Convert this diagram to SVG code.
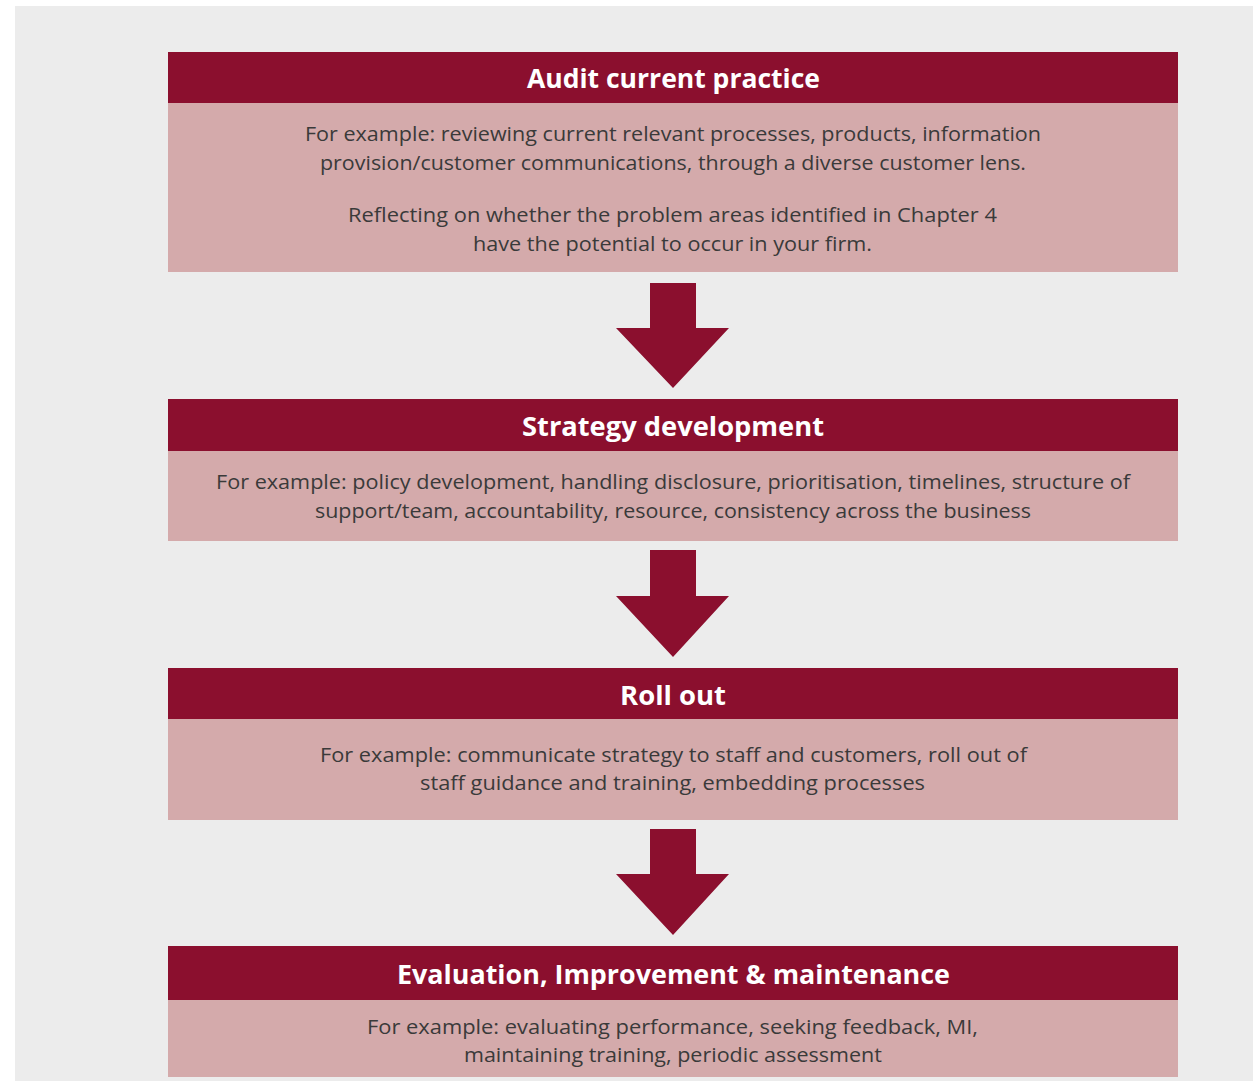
<svg xmlns="http://www.w3.org/2000/svg" width="1253" height="1083" viewBox="0 0 1253 1083">
  <style>
    .panel { fill: #ececec; }
    .head { fill: #8b0f2e; }
    .body { fill: #d4aaab; }
    .arrow { fill: #8b0f2e; }
    .title { font-family: "Open Sans", "Noto Sans", "DejaVu Sans", sans-serif; font-weight: 700; font-size: 27px; fill: #ffffff; }
    .desc { font-family: "Open Sans", "Noto Sans", "DejaVu Sans", sans-serif; font-size: 20px; fill: #3a3a3a; }
  </style>

  <rect x="0" y="0" width="1253" height="1083" fill="#ffffff"/>
  <rect class="panel" x="15" y="6" width="1238" height="1075"/>

  <!-- Step 1 -->
  <g id="audit">
    <rect class="head" x="168" y="52" width="1010" height="51"/>
    <rect class="body" x="168" y="103" width="1010" height="169"/>
    <text class="title" x="527" y="88" textLength="293" lengthAdjust="spacingAndGlyphs">Audit current practice</text>
    <text class="desc" x="305" y="141" textLength="736" lengthAdjust="spacingAndGlyphs">For example: reviewing current relevant processes, products, information</text>
    <text class="desc" x="320" y="170" textLength="706" lengthAdjust="spacingAndGlyphs">provision/customer communications, through a diverse customer lens.</text>
    <text class="desc" x="348" y="222" textLength="649" lengthAdjust="spacingAndGlyphs">Reflecting on whether the problem areas identified in Chapter 4</text>
    <text class="desc" x="473" y="251" textLength="399" lengthAdjust="spacingAndGlyphs">have the potential to occur in your firm.</text>
  </g>

  <!-- Step 2 -->
  <g id="strategy">
    <rect class="head" x="168" y="399" width="1010" height="52"/>
    <rect class="body" x="168" y="451" width="1010" height="90"/>
    <text class="title" x="522" y="436" textLength="302" lengthAdjust="spacingAndGlyphs">Strategy development</text>
    <text class="desc" x="216" y="489" textLength="914" lengthAdjust="spacingAndGlyphs">For example: policy development, handling disclosure, prioritisation, timelines, structure of</text>
    <text class="desc" x="315" y="518" textLength="716" lengthAdjust="spacingAndGlyphs">support/team, accountability, resource, consistency across the business</text>
  </g>

  <!-- Step 3 -->
  <g id="rollout">
    <rect class="head" x="168" y="668" width="1010" height="51"/>
    <rect class="body" x="168" y="719" width="1010" height="101"/>
    <text class="title" x="620" y="705" textLength="106" lengthAdjust="spacingAndGlyphs">Roll out</text>
    <text class="desc" x="320" y="762" textLength="707" lengthAdjust="spacingAndGlyphs">For example: communicate strategy to staff and customers, roll out of</text>
    <text class="desc" x="420" y="790" textLength="505" lengthAdjust="spacingAndGlyphs">staff guidance and training, embedding processes</text>
  </g>

  <!-- Step 4 -->
  <g id="evaluation">
    <rect class="head" x="168" y="946" width="1010" height="54"/>
    <rect class="body" x="168" y="1000" width="1010" height="77"/>
    <text class="title" x="397" y="984" textLength="553" lengthAdjust="spacingAndGlyphs">Evaluation, Improvement &amp; maintenance</text>
    <text class="desc" x="367" y="1034" textLength="611" lengthAdjust="spacingAndGlyphs">For example: evaluating performance, seeking feedback, MI,</text>
    <text class="desc" x="464" y="1062" textLength="418" lengthAdjust="spacingAndGlyphs">maintaining training, periodic assessment</text>
  </g>

  <!-- Block arrows between steps -->
  <g id="connectors">
    <polygon class="arrow" points="650,283 696,283 696,328 729,328 673,388 616,328 650,328"/>
    <polygon class="arrow" points="650,550 696,550 696,596 729,596 673,657 616,596 650,596"/>
    <polygon class="arrow" points="650,829 696,829 696,874 729,874 673,935 616,874 650,874"/>
  </g>
</svg>
